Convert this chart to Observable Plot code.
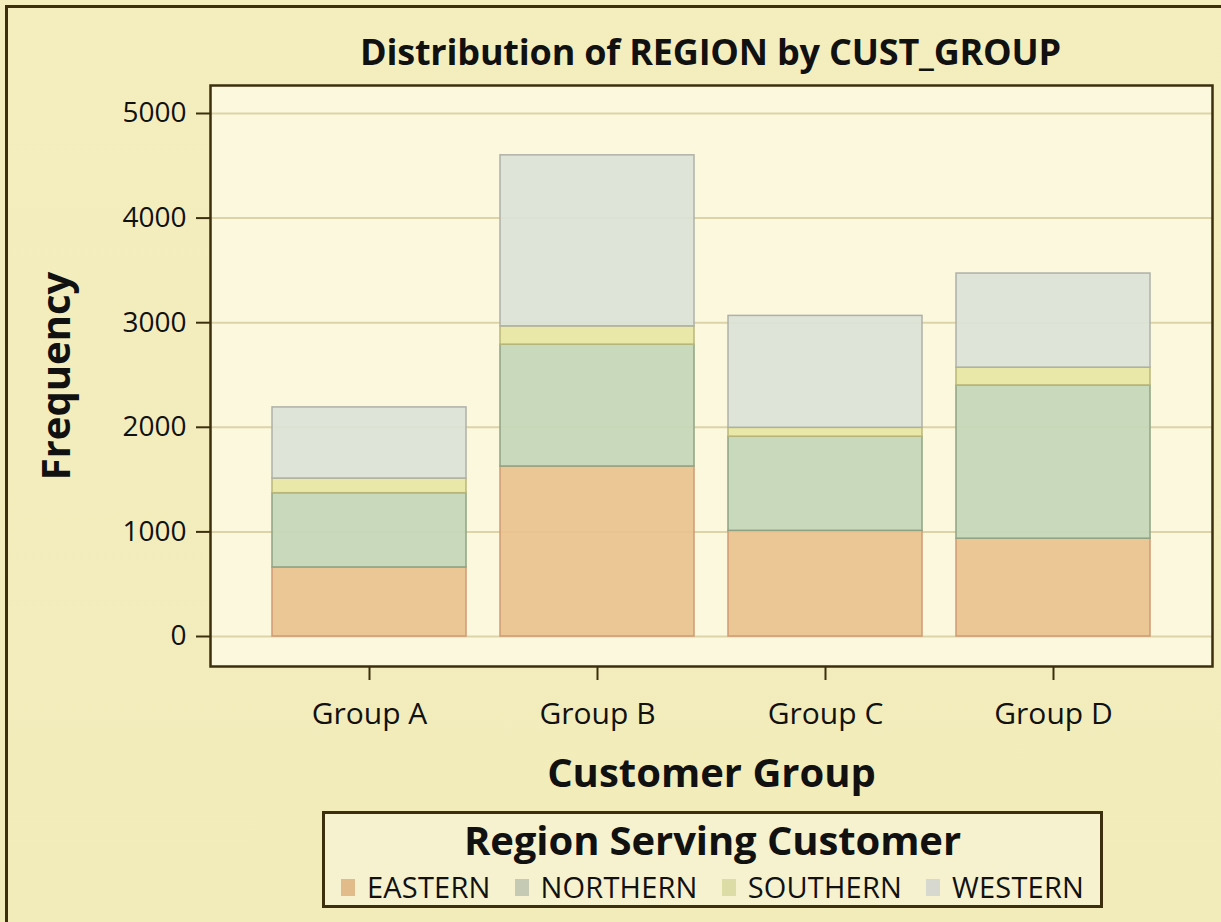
<!DOCTYPE html>
<html>
<head>
<meta charset="utf-8">
<script src="https://cdn.jsdelivr.net/npm/d3@7"></script>
<script src="https://cdn.jsdelivr.net/npm/@observablehq/plot@0.6"></script>
<style>
  html, body { margin: 0; padding: 0; background: #f3edbd; }
  #page { position: relative; width: 1221px; height: 922px; overflow: hidden;
          background: linear-gradient(180deg, #f4eebf 0%, #f2ecbb 100%); font-family: "Open Sans", sans-serif; color: #111; }
  #outer { position: absolute; left: 5px; top: 5px; width: 1300px; height: 1000px;
           border-left: 3px solid #3b2f0e; border-top: 3px solid #3b2f0e; box-sizing: border-box; }
  #title { position: absolute; left: 0; width: 1421px; top: 30px; height: 44px; text-align: center;
           font-size: 36px; font-weight: bold; line-height: 44px; letter-spacing: -0.2px; white-space: nowrap; }
  #chart { position: absolute; left: 0; top: 70px; }
  #legend { position: absolute; left: 322px; top: 811px; width: 781px; height: 97px;
            border: 3px solid #3b2f0e; box-sizing: border-box; background: #f6f1cf; }
  #legend .lt { position: absolute; left: 0; right: 0; top: 6px; height: 40px; text-align: center;
                font-size: 40px; font-weight: bold; line-height: 40px; letter-spacing: -0.1px; white-space: nowrap; }
  #legend .items { position: absolute; left: 0; right: 0; top: 58px; height: 30px;
                   display: flex; justify-content: center; align-items: center; }
  #legend .item { display: flex; align-items: center; font-size: 29px; line-height: 30px; margin: 0 12px; white-space: nowrap; letter-spacing: 0.2px; }
  #legend .sw { width: 14px; height: 17px; margin-right: 12px; }
</style>
</head>
<body>
<div id="page">
  <div id="outer"></div>
  <div id="title"></div>
  <div id="chart"></div>
  <div id="legend"><div class="lt"></div><div class="items"></div></div>
</div>
<script>
// ---- data ----
const groups = ["Group A", "Group B", "Group C", "Group D"];
const regions = ["EASTERN", "NORTHERN", "SOUTHERN", "WESTERN"];
const eastern  = [660, 1625, 1010, 935];
const northern = [710, 1165, 900, 1465];
const southern = [140, 175, 85, 170];
const western  = [680, 1635, 1070, 900];
const yTicks = [0, 1000, 2000, 3000, 4000, 5000];
const regionFill   = ["#e9c28f", "#c4d7b9", "#e8e6a3", "#dbe3d7"];
const regionStroke = ["#cf9a74", "#8fa384", "#b9b67a", "#aeb0a8"];
const legendFill   = ["#e2bb8a", "#c4cab4", "#dcdda6", "#d7d9d0"];
const titleText = "Distribution of REGION by CUST_GROUP";
const xLabel = "Customer Group";
const yLabel = "Frequency";
const legendTitle = "Region Serving Customer";

const seriesValues = [eastern, northern, southern, western];
const data = [];
groups.forEach((g, gi) => {
  regions.forEach((r, ri) => {
    data.push({group: g, region: r, ri, value: seriesValues[ri][gi]});
  });
});

document.getElementById("title").textContent = titleText;

const W = 1221, H = 740;
const chart = Plot.plot({
  width: W,
  height: H,
  marginLeft: 210,
  marginRight: W - 1212,
  marginTop: 15,
  marginBottom: H - 596,
  style: {background: "transparent", fontFamily: "Open Sans, sans-serif", color: "#111", overflow: "visible"},
  x: {domain: groups, paddingInner: 0.147, paddingOuter: 0.264, axis: null},
  y: {domain: [0, 5000], range: [566, 43], axis: null},
  marks: [
    Plot.frame({fill: "#fcf8dd", stroke: null}),
    Plot.gridY(yTicks, {stroke: "#dcd3a8", strokeOpacity: 1, strokeWidth: 2}),
    Plot.barY(data, {
      x: "group", y: "value", z: "region",
      fill: d => regionFill[d.ri], stroke: d => regionStroke[d.ri],
      strokeWidth: 1.5, fillOpacity: 0.92
    }),
    Plot.frame({stroke: "#3b2f0e", strokeWidth: 2.5}),
    Plot.axisY(yTicks, {tickSize: 14, tickPadding: 10, fontSize: 28, stroke: "#3b2f0e", strokeWidth: 2, label: null, tickFormat: d => String(d)}),
    Plot.axisX({tickSize: 14, tickPadding: 22, fontSize: 30, stroke: "#3b2f0e", strokeWidth: 2, label: null}),
    Plot.text([xLabel], {frameAnchor: "bottom", dy: 120, fontSize: 40, fontWeight: "bold", fill: "#111"}),
    Plot.text([yLabel], {frameAnchor: "left", textAnchor: "middle", dx: -153, rotate: -90, fontSize: 40, fontWeight: "bold", fill: "#111"})
  ]
});
document.getElementById("chart").appendChild(chart);

// legend
const lg = document.getElementById("legend");
lg.querySelector(".lt").textContent = legendTitle;
const items = lg.querySelector(".items");
regions.forEach((r, i) => {
  const it = document.createElement("div");
  it.className = "item";
  const sw = document.createElement("span");
  sw.className = "sw";
  sw.style.background = legendFill[i];
  const tx = document.createElement("span");
  tx.textContent = r;
  it.appendChild(sw); it.appendChild(tx);
  items.appendChild(it);
});
</script>
</body>
</html>
